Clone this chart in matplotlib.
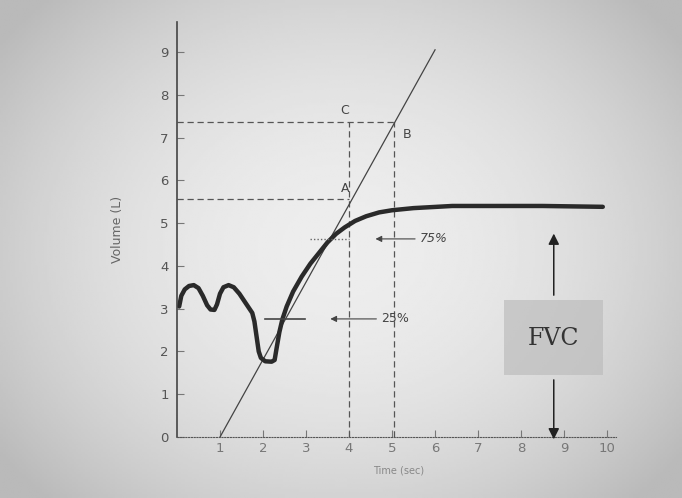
import numpy as np
import matplotlib
matplotlib.use("Agg")
import matplotlib.pyplot as plt

# spirogram trace
time_s = [0.05, 0.1, 0.18, 0.28, 0.39, 0.5, 0.6, 0.7, 0.78, 0.87, 0.93, 1.0, 1.08,
          1.2, 1.32, 1.45, 1.55, 1.65, 1.75, 1.8, 1.85, 1.9, 1.95, 2.05, 2.2, 2.27,
          2.32, 2.38, 2.45, 2.55, 2.7, 2.9, 3.1, 3.3, 3.5, 3.7, 3.9, 4.14, 4.4,
          4.7, 5.0, 5.5, 6.4, 7.5, 8.5, 9.9]
volume_l = [3.05, 3.3, 3.45, 3.53, 3.55, 3.48, 3.3, 3.08, 2.98, 2.97, 3.1, 3.35, 3.5,
            3.55, 3.5, 3.35, 3.2, 3.05, 2.9, 2.7, 2.35, 2.0, 1.85, 1.77, 1.76, 1.8,
            2.1, 2.45, 2.75, 3.05, 3.4, 3.75, 4.05, 4.3, 4.55, 4.75, 4.9, 5.05, 5.16,
            5.25, 5.3, 5.35, 5.4, 5.4, 5.4, 5.38]

tangent_x = [1.0, 6.0]
tangent_y = [0.0, 9.05]

point_a = (4.0, 5.56)
point_b = (5.05, 7.37)
level_25 = 2.76
level_75 = 4.63

x_ticks = list(range(1, 11))
y_ticks = list(range(0, 10))

fig = plt.figure(figsize=(6.82, 4.98), dpi=100)

# halftone-like background: light centre, darker edges
bg = fig.add_axes([0, 0, 1, 1], zorder=-10)
yy, xx = np.mgrid[0:1:200j, 0:1:300j]
shade = 0.93 - 0.2 * np.clip(((xx - 0.5) / 0.62) ** 2 + ((yy - 0.5) / 0.7) ** 2, 0, 1)
bg.imshow(shade, cmap="gray", vmin=0, vmax=1, aspect="auto", extent=[0, 1, 0, 1])
bg.axis("off")

ax = fig.add_axes([177 / 682, 61 / 498, 443 / 682, 415 / 498])
ax.patch.set_alpha(0)
ax.set_xlim(0, 10.3)
ax.set_ylim(0, 9.7)
for s in ["top", "right"]:
    ax.spines[s].set_visible(False)
ax.spines["left"].set_color("#444444")
ax.spines["left"].set_linewidth(1.2)
ax.spines["bottom"].set_linestyle((0, (1, 1.5)))
ax.spines["bottom"].set_color("#555555")
ax.spines["bottom"].set_bounds(0, 10.2)

ax.set_xticks(x_ticks)
ax.set_yticks(y_ticks)
ax.tick_params(axis="both", direction="in", length=5, color="#777777",
               labelsize=9.5, labelcolor="#555555")
ax.tick_params(axis="x", labelcolor="#777777")
ax.tick_params(axis="y", pad=6)
ax.set_ylabel("Volume (L)", fontsize=9, color="#666666", labelpad=26)
ax.set_xlabel("Time (sec)", fontsize=7, color="#888888", labelpad=8)

dash = dict(color="#555555", lw=0.9, ls=(0, (5, 3)))
ax.plot([0, point_b[0]], [point_b[1], point_b[1]], **dash)
ax.plot([0, point_a[0]], [point_a[1], point_a[1]], **dash)
ax.plot([point_a[0], point_a[0]], [0, point_b[1]], **dash)
ax.plot([point_b[0], point_b[0]], [0, point_b[1]], **dash)

ax.plot(tangent_x, tangent_y, color="#444444", lw=0.9)
ax.plot(time_s, volume_l, color="#2a2a2a", lw=3.2, solid_joinstyle="round",
        solid_capstyle="round")

ax.text(3.82, 5.72, "A", fontsize=9, color="#444444")
ax.text(5.25, 7.0, "B", fontsize=9, color="#444444")
ax.text(3.8, 7.55, "C", fontsize=9, color="#444444")

# 25 % and 75 % markers
ax.plot([2.05, 2.98], [level_25, level_25], color="#444444", lw=1.2)
ax.plot([3.1, 4.0], [level_75, level_75], color="#666666", lw=1, ls=(0, (1, 1.5)))
ax.annotate("", xy=(3.5, level_25), xytext=(4.7, level_25),
            arrowprops=dict(arrowstyle="-|>", color="#444444", lw=0.8, mutation_scale=9))
ax.text(4.75, level_25, "25%", fontsize=9, color="#444444", va="center")
ax.annotate("", xy=(4.55, level_75), xytext=(5.6, level_75),
            arrowprops=dict(arrowstyle="-|>", color="#444444", lw=0.8, mutation_scale=9))
ax.text(5.65, level_75, "75%", fontsize=9, color="#444444", va="center", style="italic")

# FVC box and arrows
ax.add_patch(plt.Rectangle((7.6, 1.45), 2.3, 1.75, color="#bdbdbd", alpha=0.7, lw=0))
ax.text(8.76, 2.3, "FVC", fontsize=17, color="#333333", ha="center", va="center",
        family="DejaVu Serif")
ax.annotate("", xy=(8.76, 4.82), xytext=(8.76, 3.25),
            arrowprops=dict(arrowstyle="-|>", color="#222222", lw=1.1, mutation_scale=16))
ax.annotate("", xy=(8.76, -0.12), xytext=(8.76, 1.4), annotation_clip=False,
            arrowprops=dict(arrowstyle="-|>", color="#222222", lw=1.1, mutation_scale=16))

fig.savefig("out.png", dpi=100)
